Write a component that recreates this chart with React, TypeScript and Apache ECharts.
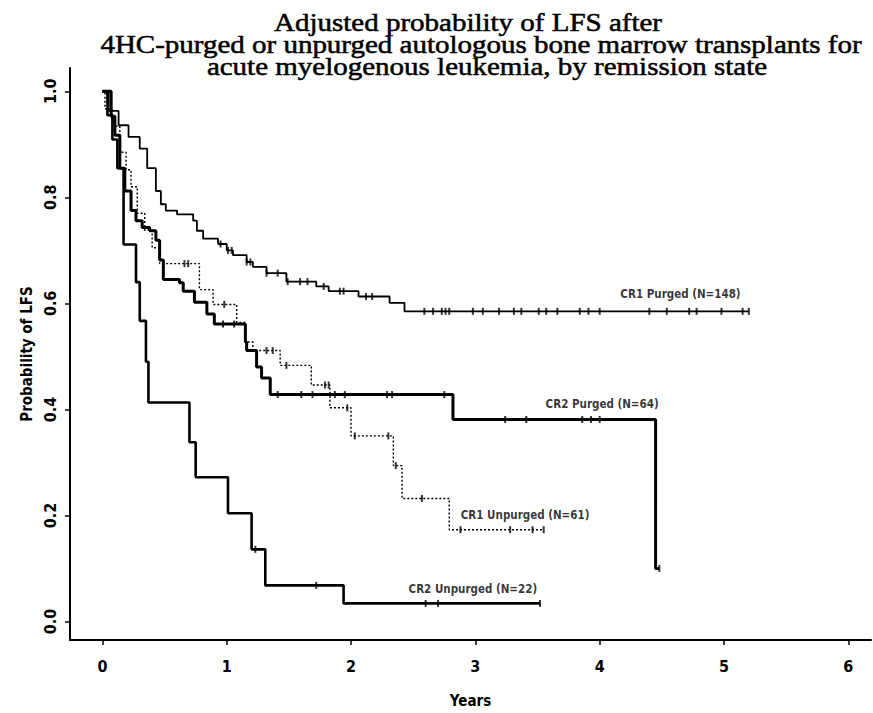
import React, { useEffect, useRef } from "react";
import * as echarts from "echarts";

// ---- Texts ----
const titleLines = [
  "Adjusted probability of LFS after",
  "4HC-purged or unpurged autologous bone marrow transplants for",
  "acute myelogenous leukemia, by remission state",
];
const xAxisName = "Years";
const yAxisName = "Probability of LFS";
const xTicks = [0, 1, 2, 3, 4, 5, 6];
const yTicks = [0, 0.2, 0.4, 0.6, 0.8, 1.0];

// ---- CR1 Purged (N=148) ----
const cr1PurgedTimes = [0, 0.05, 0.13, 0.21, 0.3, 0.36, 0.43, 0.47, 0.51, 0.6, 0.73, 0.76, 0.81, 0.93, 1.0, 1.05, 1.16, 1.21, 1.32, 1.48, 1.72, 1.82, 2.06, 2.31, 2.43, 5.2];
const cr1PurgedSurv = [1, 0.963, 0.936, 0.914, 0.892, 0.855, 0.812, 0.787, 0.775, 0.768, 0.756, 0.737, 0.722, 0.712, 0.7, 0.691, 0.678, 0.669, 0.657, 0.641, 0.632, 0.623, 0.613, 0.601, 0.585, 0.585];
const cr1PurgedCensor = [0.95, 1.01, 1.04, 1.16, 1.19, 1.32, 1.41, 1.49, 1.59, 1.65, 1.78, 1.91, 1.94, 2.12, 2.17, 2.59, 2.66, 2.73, 2.76, 2.79, 2.98, 3.06, 3.19, 3.31, 3.37, 3.51, 3.57, 3.66, 3.84, 3.91, 4.0, 4.4, 4.54, 4.72, 4.78, 4.98, 5.15, 5.2];

// ---- CR2 Purged (N=64) ----
const cr2PurgedTimes = [0, 0.07, 0.1, 0.14, 0.18, 0.23, 0.27, 0.32, 0.38, 0.43, 0.46, 0.49, 0.62, 0.65, 0.74, 0.84, 0.9, 1.15, 1.16, 1.24, 1.28, 1.35, 2.82, 4.45, 4.48];
const cr2PurgedSurv = [1, 0.953, 0.917, 0.855, 0.812, 0.775, 0.756, 0.743, 0.737, 0.719, 0.682, 0.645, 0.639, 0.623, 0.602, 0.58, 0.561, 0.527, 0.511, 0.48, 0.459, 0.428, 0.381, 0.1, 0.1];
const cr2PurgedCensor = [0.97, 1.06, 1.41, 1.6, 1.69, 1.87, 1.95, 2.29, 2.33, 2.75, 3.24, 3.41, 3.86, 3.93, 4.0, 4.48];

// ---- CR1 Unpurged (N=61) ----
const cr1UnpurgedTimes = [0, 0.02, 0.08, 0.14, 0.19, 0.23, 0.28, 0.34, 0.4, 0.46, 0.78, 0.89, 1.08, 1.15, 1.21, 1.43, 1.68, 1.83, 2.0, 2.34, 2.41, 2.79, 3.55];
const cr1UnpurgedSurv = [1, 0.967, 0.934, 0.885, 0.852, 0.82, 0.77, 0.738, 0.705, 0.675, 0.626, 0.598, 0.564, 0.527, 0.511, 0.483, 0.446, 0.403, 0.35, 0.294, 0.232, 0.173, 0.173];
const cr1UnpurgedCensor = [0.66, 0.69, 0.98, 1.32, 1.37, 1.48, 1.79, 1.82, 1.97, 2.03, 2.3, 2.36, 2.57, 2.88, 3.28, 3.46, 3.55];

// ---- CR2 Unpurged (N=22) ----
const cr2UnpurgedTimes = [0, 0.04, 0.08, 0.12, 0.17, 0.27, 0.3, 0.35, 0.37, 0.7, 0.75, 1.01, 1.2, 1.31, 1.94, 3.52];
const cr2UnpurgedSurv = [1, 0.955, 0.909, 0.855, 0.711, 0.64, 0.567, 0.49, 0.413, 0.338, 0.272, 0.204, 0.136, 0.068, 0.034, 0.034];
const cr2UnpurgedCensor = [1.23, 1.72, 2.6, 2.7, 3.52];

// ---- Curve labels ----
const curveNames = ["CR1 Purged (N=148)", "CR2 Purged (N=64)", "CR1 Unpurged (N=61)", "CR2 Unpurged (N=22)"];
const curveLabelX = [4.65, 4.02, 3.4, 2.98];
const curveLabelY = [0.618, 0.41, 0.2, 0.062];

const SANS = "'Liberation Sans Narrow', 'DejaVu Sans Condensed', sans-serif";
const SERIF = "'Liberation Serif', 'DejaVu Serif', serif";

function stepAt(times: number[], surv: number[], t: number): number {
  let v = surv[0];
  for (let i = 0; i < times.length; i++) {
    if (times[i] <= t + 1e-9) v = surv[i];
  }
  return v;
}

const curves = [
  { times: cr1PurgedTimes, surv: cr1PurgedSurv, censor: cr1PurgedCensor, width: 1.8, type: "solid" as any },
  { times: cr2PurgedTimes, surv: cr2PurgedSurv, censor: cr2PurgedCensor, width: 3, type: "solid" as any },
  { times: cr1UnpurgedTimes, surv: cr1UnpurgedSurv, censor: cr1UnpurgedCensor, width: 1.4, type: [2, 2] as any },
  { times: cr2UnpurgedTimes, surv: cr2UnpurgedSurv, censor: cr2UnpurgedCensor, width: 2.6, type: "solid" as any },
];

export default function App() {
  const ref = useRef<HTMLDivElement>(null);
  useEffect(() => {
    if (!ref.current) return;
    const chart = echarts.init(ref.current, undefined, { renderer: "svg" });
    const series: any[] = [];
    curves.forEach((c, idx) => {
      series.push({
        type: "line",
        name: curveNames[idx],
        step: "end",
        symbol: "none",
        data: c.times.map((t, i) => [t, c.surv[i]]),
        lineStyle: { color: "#000", width: c.width, type: c.type },
        z: 2,
      });
      series.push({
        type: "scatter",
        symbol: "rect",
        symbolSize: [2, 7],
        itemStyle: { color: "#000" },
        data: c.censor.map((t) => [t, stepAt(c.times, c.surv, t)]),
        z: 3,
      });
    });
    series.push({
      type: "scatter",
      symbolSize: 1,
      itemStyle: { color: "rgba(0,0,0,0)" },
      data: curveNames.map((n, i) => ({ name: n, value: [curveLabelX[i], curveLabelY[i]] })),
      label: {
        show: true,
        position: "inside",
        formatter: (p: any) => p.name,
        color: "#000",
        fontFamily: SANS,
        fontWeight: "bold",
        fontSize: 11.5,
      },
      z: 4,
    });

    const titleX = [468, 481, 487];
    const titleY = [22.5, 44.5, 66.5];

    chart.setOption({
      animation: false,
      backgroundColor: "#fff",
      grid: { left: 70, right: 2, top: 68, bottom: 64, containLabel: false },
      xAxis: {
        type: "value",
        min: -0.261,
        max: 6.183,
        name: xAxisName,
        nameLocation: "middle",
        nameGap: 53,
        nameTextStyle: { fontFamily: SANS, fontWeight: "bold", fontSize: 15, color: "#000" },
        axisLine: { show: true, onZero: false, lineStyle: { color: "#000", width: 2 } },
        axisTick: { show: true, length: 5, customValues: xTicks, lineStyle: { color: "#000", width: 1.5 } },
        axisLabel: {
          customValues: xTicks,
          margin: 18,
          fontFamily: SANS,
          fontWeight: "bold",
          fontSize: 16,
          color: "#000",
        },
        splitLine: { show: false },
      },
      yAxis: {
        type: "value",
        min: -0.035,
        max: 1.044,
        name: yAxisName,
        nameLocation: "middle",
        nameGap: 35,
        nameRotate: 90,
        nameTextStyle: { fontFamily: SANS, fontWeight: "bold", fontSize: 15, color: "#000" },
        axisLine: { show: true, onZero: false, lineStyle: { color: "#000", width: 2 } },
        axisTick: { show: true, length: 5, customValues: yTicks, lineStyle: { color: "#000", width: 1.5 } },
        axisLabel: {
          customValues: yTicks,
          rotate: 90,
          margin: 12,
          formatter: (v: number) => v.toFixed(1),
          fontFamily: SANS,
          fontWeight: "bold",
          fontSize: 16,
          color: "#000",
        },
        splitLine: { show: false },
      },
      graphic: titleLines.map((t, i) => ({
        type: "text",
        x: titleX[i],
        y: titleY[i],
        scaleY: 0.86,
        style: {
          text: t,
          fontFamily: SERIF,
          fontSize: 29,
          lineHeight: 22,
          fill: "#000",
          stroke: "#000",
          lineWidth: 0.6,
          textAlign: "center",
          textVerticalAlign: "middle",
        },
        z: 10,
      })),
      series,
    });
    return () => chart.dispose();
  }, []);
  return (
    <div
      ref={ref}
      style={{ position: "absolute", left: 0, top: 0, width: 873, height: 713, background: "#fff" }}
    />
  );
}
